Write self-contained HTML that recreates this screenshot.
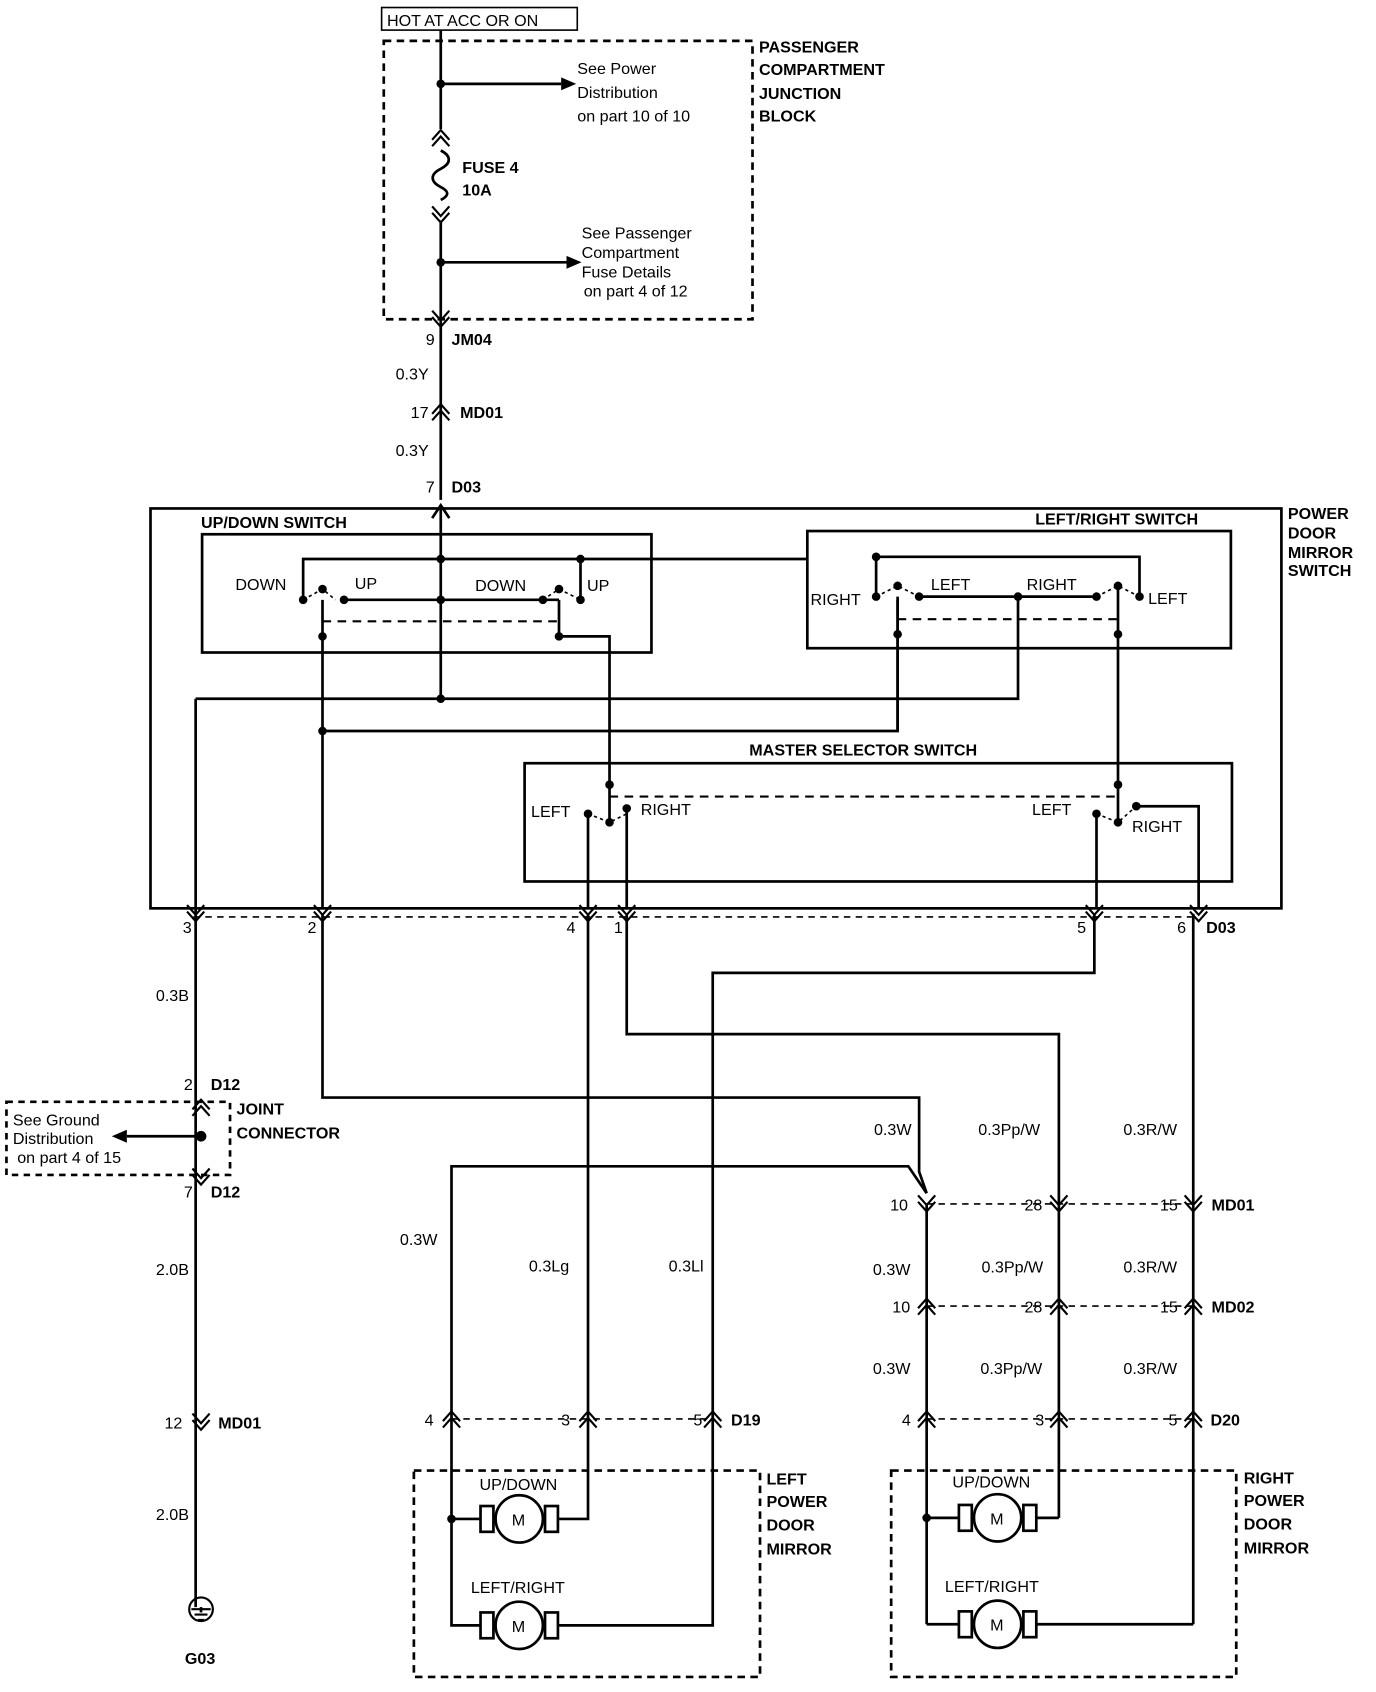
<!DOCTYPE html>
<html><head><meta charset="utf-8"><style>
html,body{margin:0;padding:0;background:#fff}
svg{display:block}
text{font-family:"Liberation Sans",sans-serif;font-size:15px;fill:#000}
.b{font-weight:bold}
</style></head><body>
<svg width="1376" height="1692" viewBox="0 0 1280 1574" preserveAspectRatio="none" xmlns="http://www.w3.org/2000/svg">
<defs>
<g id="vd"><path d="M-8,-8 L0,1 L8,-8 M-8,-2 L0,7 L8,-2" fill="none" stroke="#000" stroke-width="2"/></g>
<g id="vu"><path d="M-8,8 L0,-1 L8,8 M-8,2 L0,-7 L8,2" fill="none" stroke="#000" stroke-width="2"/></g>
<g id="mot"><circle r="22" fill="#fff" stroke="#000" stroke-width="2.5"/><rect x="-36" y="-12" width="12" height="24" fill="#fff" stroke="#000" stroke-width="2.5"/><rect x="24" y="-12" width="12" height="24" fill="#fff" stroke="#000" stroke-width="2.5"/><text x="-7" y="6" style="font-size:15px">M</text></g>
</defs>
<g fill="none" stroke="#000" stroke-width="2.5">
<!-- top -->
<rect x="355" y="7" width="182" height="21" stroke-width="1.5"/>
<rect x="357" y="38" width="343" height="259" stroke-dasharray="7,5"/>
<path d="M410,28 V120 M410,205 V465"/>
<path d="M410,140 c10,5 10,12 0,17 c-10,5 -10,12 0,17 c8,4 8,8 0,12"/>
<path d="M410,78 H522 M410,244 H527"/>
<!-- switch boxes -->
<rect x="140" y="473" width="1052" height="372"/>
<rect x="188" y="497" width="418" height="110"/>
<rect x="751" y="494" width="394" height="109"/>
<rect x="488" y="710" width="658" height="110"/>
<!-- internals up/down -->
<path d="M410,470 V650 M282,558 V520 H606 M540,520 V558 M606,520 H751 M320,558 H520 M300,558 V845 M520,558 V592 H567 V765 M182,650 H947 V558 M182,650 V1495 M300,680 H835 V558"/>
<path d="M282,558 L300,548 L312,558 M505,558 L520,548 L540,558" stroke-width="1.5" stroke-dasharray="3,3"/>
<path d="M300,578 H520" stroke-width="2" stroke-dasharray="8,6"/>
<!-- left/right internals -->
<path d="M815,518 H1060 V555 M815,518 V555 M855,555 H1020 M835,555 V680 M1040,548 V765 M1057,750 H1115 V845"/>
<path d="M815,555 L835,545 L855,555 M1020,555 L1040,545 L1060,555" stroke-width="1.5" stroke-dasharray="3,3"/>
<path d="M835,576 H1040" stroke-width="2" stroke-dasharray="8,6"/>
<!-- master -->
<path d="M547,757 V845 M583,765 V845 M583,765 V752 M1020,757 V845"/>
<path d="M547,757 L567,765 L583,757 M1020,757 L1040,765 L1057,750" stroke-width="1.5" stroke-dasharray="3,3"/>
<path d="M567,741 H1040" stroke-width="2" stroke-dasharray="8,6"/>
<!-- bottom connector row -->
<path d="M180,853 H1115" stroke-width="1.5" stroke-dasharray="6,5"/>
<!-- wires below -->
<path d="M300,850 V1021 H855 V1090 L862,1110"/>
<path d="M420,1320 V1085 H845 L862,1110"/>
<path d="M547,850 V1320 M583,850 V962 H985 V1120 M1018,850 V905 H663 V1320 M1110,850 V1320"/>
<path d="M862,1120 V1511 M985,1120 V1412 M1110,1320 V1511"/>
<path d="M862,1120 H1115 M862,1215 H1115 M862,1320 H1115 M420,1320 H663" stroke-width="1.5" stroke-dasharray="6,5"/>
<!-- joint connector -->
<rect x="6" y="1025" width="208" height="68" stroke-dasharray="6,5"/>
<path d="M187,1057 H118"/>
<!-- mirrors -->
<rect x="385" y="1368" width="322" height="192" stroke-dasharray="7,5"/>
<rect x="829" y="1368" width="321" height="192" stroke-dasharray="7,5"/>
<path d="M420,1320 V1512 H450 M420,1413 H450 M547,1320 V1413 H517 M663,1320 V1512 H517"/>
<path d="M862,1511 H892 M862,1412 H892 M985,1412 H964 M1110,1511 H964"/>
<!-- ground -->
<path d="M187,1495 V1500"/>
</g>
<!-- arrows -->
<path d="M522,72 L536,78 L522,84 Z M527,238 L541,244 L527,250 Z M118,1051 L104,1057 L118,1063 Z"/>
<path d="M402,482 L410,470 L418,482" fill="none" stroke="#000" stroke-width="2.5"/>
<!-- dots -->
<g>
<circle cx="410" cy="78" r="4"/><circle cx="410" cy="244" r="4"/>
<circle cx="410" cy="520" r="4"/><circle cx="410" cy="558" r="4"/><circle cx="410" cy="650" r="4"/>
<circle cx="540" cy="520" r="4"/><circle cx="282" cy="558" r="4"/><circle cx="320" cy="558" r="4"/><circle cx="300" cy="548" r="4"/>
<circle cx="505" cy="558" r="4"/><circle cx="540" cy="558" r="4"/><circle cx="520" cy="548" r="4"/><circle cx="300" cy="592" r="4"/><circle cx="520" cy="592" r="4"/><circle cx="300" cy="680" r="4"/>
<circle cx="815" cy="518" r="4"/><circle cx="815" cy="555" r="4"/><circle cx="855" cy="555" r="4"/><circle cx="835" cy="590" r="4"/><circle cx="947" cy="555" r="4"/><circle cx="1020" cy="555" r="4"/><circle cx="1060" cy="555" r="4"/><circle cx="1040" cy="590" r="4"/><circle cx="835" cy="545" r="4"/><circle cx="1040" cy="545" r="4"/>
<circle cx="547" cy="757" r="4"/><circle cx="567" cy="765" r="4"/><circle cx="583" cy="752" r="4"/><circle cx="567" cy="730" r="4"/>
<circle cx="1020" cy="757" r="4"/><circle cx="1040" cy="765" r="4"/><circle cx="1057" cy="750" r="4"/><circle cx="1040" cy="730" r="4"/>
<circle cx="187" cy="1057" r="5"/><circle cx="420" cy="1413" r="4"/><circle cx="862" cy="1412" r="4"/>
</g>
<!-- chevrons -->
<use href="#vu" x="410" y="128"/><use href="#vd" x="410" y="200"/>
<use href="#vd" x="410" y="297"/><use href="#vu" x="410" y="383"/>
<use href="#vd" x="182" y="850"/><use href="#vd" x="300" y="850"/><use href="#vd" x="547" y="850"/><use href="#vd" x="583" y="850"/><use href="#vd" x="1018" y="850"/><use href="#vd" x="1115" y="850"/>
<use href="#vu" x="187" y="1030"/><use href="#vd" x="187" y="1095"/><use href="#vd" x="187" y="1323"/>
<use href="#vd" x="862" y="1120"/><use href="#vd" x="985" y="1120"/><use href="#vd" x="1110" y="1120"/>
<use href="#vu" x="862" y="1215"/><use href="#vu" x="985" y="1215"/><use href="#vu" x="1110" y="1215"/>
<use href="#vu" x="862" y="1320"/><use href="#vu" x="985" y="1320"/><use href="#vu" x="1110" y="1320"/>
<use href="#vu" x="420" y="1320"/><use href="#vu" x="547" y="1320"/><use href="#vu" x="663" y="1320"/>
<!-- motors -->
<use href="#mot" x="483" y="1413"/><use href="#mot" x="483" y="1512"/>
<use href="#mot" x="928" y="1412"/><use href="#mot" x="928" y="1511"/>
<!-- ground symbol -->
<circle cx="187" cy="1497" r="11" fill="none" stroke="#000" stroke-width="2"/>
<path d="M178,1497 H196 M181,1502 H193 M184,1507 H190" stroke="#000" stroke-width="2"/>
<!-- text -->
<text x="360" y="24">HOT AT ACC OR ON</text>
<text class="b" x="706" y="49">PASSENGER</text><text class="b" x="706" y="70">COMPARTMENT</text><text class="b" x="706" y="92">JUNCTION</text><text class="b" x="706" y="113">BLOCK</text>
<text x="537" y="69">See Power</text><text x="537" y="91">Distribution</text><text x="537" y="113">on  part 10 of 10</text>
<text class="b" x="430" y="161">FUSE 4</text><text class="b" x="430" y="182">10A</text>
<text x="541" y="222">See Passenger</text><text x="541" y="240">Compartment</text><text x="541" y="258">Fuse Details</text><text x="543" y="276">on part 4 of 12</text>
<text x="396" y="321">9</text><text class="b" x="420" y="321">JM04</text>
<text x="368" y="353">0.3Y</text><text x="382" y="389">17</text><text class="b" x="428" y="389">MD01</text>
<text x="368" y="424">0.3Y</text><text x="396" y="458">7</text><text class="b" x="420" y="458">D03</text>
<text class="b" x="187" y="491">UP/DOWN SWITCH</text>
<text class="b" x="963" y="488">LEFT/RIGHT SWITCH</text>
<text class="b" x="1198" y="483">POWER</text><text class="b" x="1198" y="501">DOOR</text><text class="b" x="1198" y="519">MIRROR</text><text class="b" x="1198" y="536">SWITCH</text>
<text x="219" y="549">DOWN</text><text x="330" y="548">UP</text><text x="442" y="550">DOWN</text><text x="546" y="550">UP</text>
<text x="754" y="563">RIGHT</text><text x="866" y="549">LEFT</text><text x="955" y="549">RIGHT</text><text x="1068" y="562">LEFT</text>
<text class="b" x="697" y="703">MASTER SELECTOR SWITCH</text>
<text x="494" y="760">LEFT</text><text x="596" y="758">RIGHT</text><text x="960" y="758">LEFT</text><text x="1053" y="774">RIGHT</text>
<text x="170" y="868">3</text><text x="286" y="868">2</text><text x="527" y="868">4</text><text x="571" y="868">1</text><text x="1002" y="868">5</text><text x="1095" y="868">6</text><text class="b" x="1122" y="868">D03</text>
<text x="145" y="931">0.3B</text>
<text x="171" y="1014">2</text><text class="b" x="196" y="1014">D12</text>
<text class="b" x="220" y="1037">JOINT</text><text class="b" x="220" y="1059">CONNECTOR</text>
<text x="12" y="1047">See Ground</text><text x="12" y="1064">Distribution</text><text x="16" y="1082">on part 4 of 15</text>
<text x="171" y="1114">7</text><text class="b" x="196" y="1114">D12</text>
<text x="145" y="1186">2.0B</text><text x="153" y="1329">12</text><text class="b" x="203" y="1329">MD01</text>
<text x="145" y="1414">2.0B</text><text class="b" x="172" y="1548">G03</text>
<text x="813" y="1056">0.3W</text><text x="910" y="1056">0.3Pp/W</text><text x="1045" y="1056">0.3R/W</text>
<text x="828" y="1126">10</text><text x="953" y="1126">28</text><text x="1079" y="1126">15</text><text class="b" x="1127" y="1126">MD01</text>
<text x="812" y="1186">0.3W</text><text x="913" y="1184">0.3Pp/W</text><text x="1045" y="1184">0.3R/W</text>
<text x="830" y="1221">10</text><text x="953" y="1221">28</text><text x="1079" y="1221">15</text><text class="b" x="1127" y="1221">MD02</text>
<text x="812" y="1278">0.3W</text><text x="912" y="1278">0.3Pp/W</text><text x="1045" y="1278">0.3R/W</text>
<text x="839" y="1326">4</text><text x="963" y="1326">3</text><text x="1087" y="1326">5</text><text class="b" x="1126" y="1326">D20</text>
<text x="372" y="1158">0.3W</text><text x="492" y="1183">0.3Lg</text><text x="622" y="1183">0.3Ll</text>
<text x="395" y="1326">4</text><text x="522" y="1326">3</text><text x="645" y="1326">5</text><text class="b" x="680" y="1326">D19</text>
<text x="446" y="1386">UP/DOWN</text><text x="438" y="1482">LEFT/RIGHT</text>
<text class="b" x="713" y="1381">LEFT</text><text class="b" x="713" y="1402">POWER</text><text class="b" x="713" y="1424">DOOR</text><text class="b" x="713" y="1446">MIRROR</text>
<text x="886" y="1384">UP/DOWN</text><text x="879" y="1481">LEFT/RIGHT</text>
<text class="b" x="1157" y="1380">RIGHT</text><text class="b" x="1157" y="1401">POWER</text><text class="b" x="1157" y="1423">DOOR</text><text class="b" x="1157" y="1445">MIRROR</text>
</svg>
</body></html>
